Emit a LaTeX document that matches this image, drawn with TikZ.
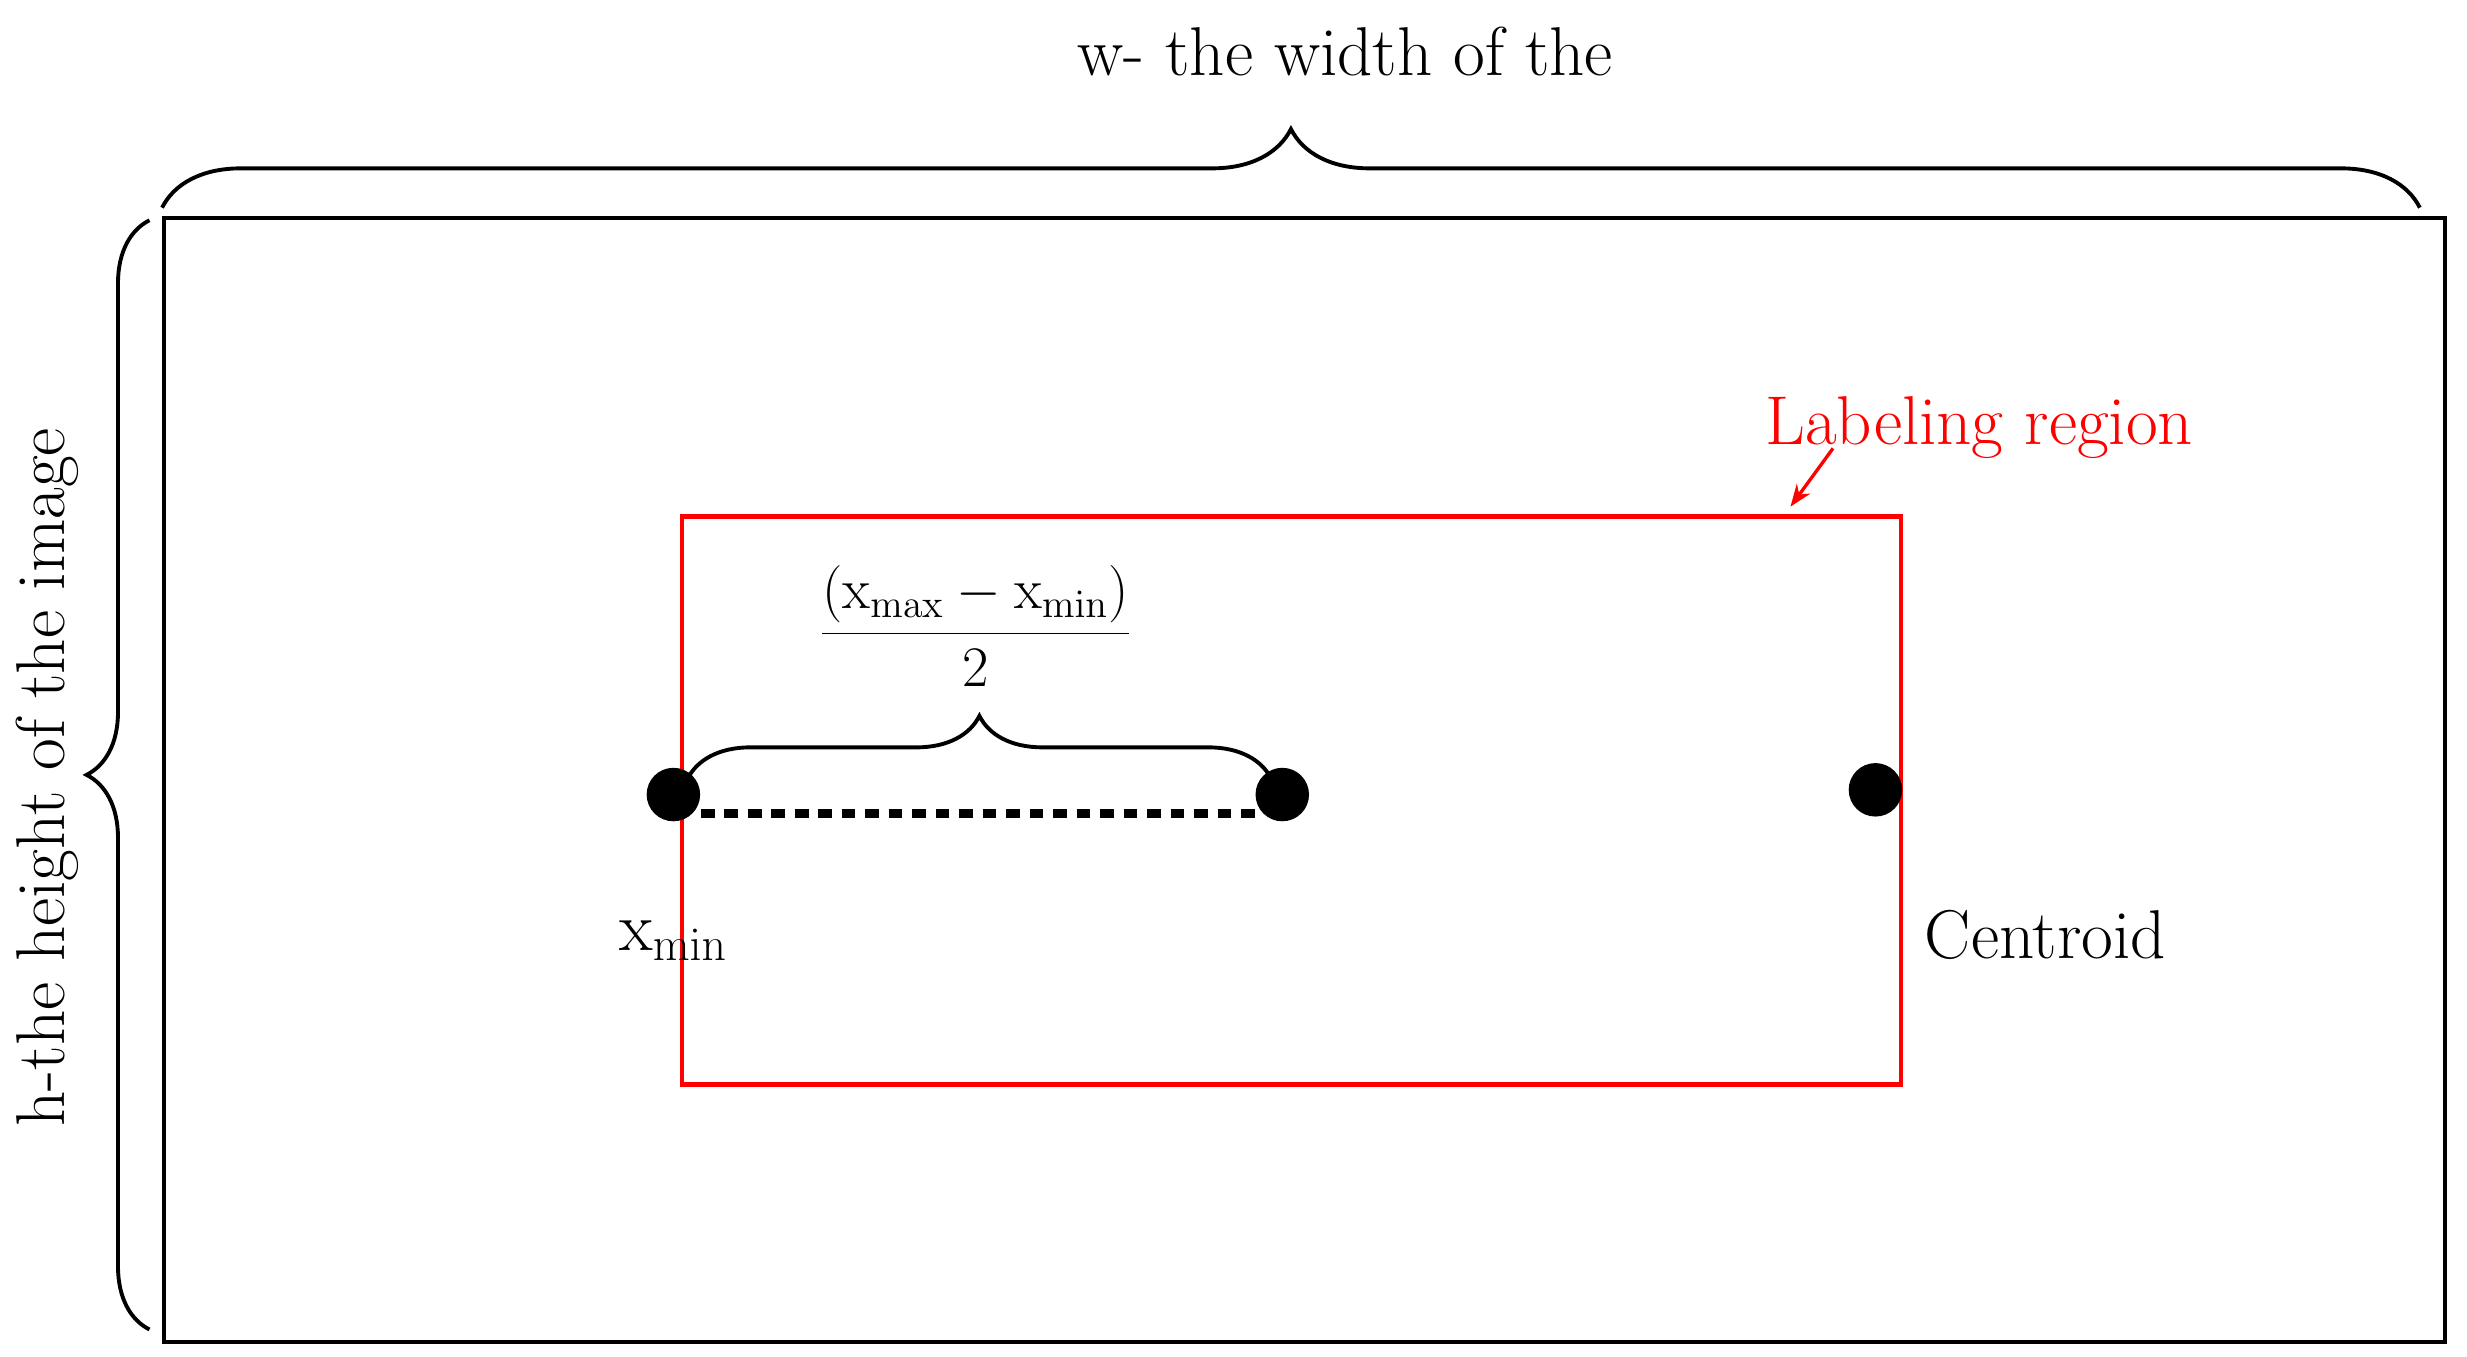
\documentclass[tikz,border=0pt]{standalone}
\usetikzlibrary{decorations.pathreplacing,arrows.meta}
\begin{document}
\begin{tikzpicture}[x=0.02cm,y=-0.02cm,
  txt/.style={font=\fontsize{25}{30}\selectfont, inner sep=0pt},
  br/.style={line width=1.4pt, decorate, decoration={brace,amplitude=#1}},
  dot/.style={circle, fill=black, minimum size=0.68cm, inner sep=0pt}]
\useasboundingbox (0,0) rectangle (1568,862);
\node[draw, line width=1.5pt, minimum width=29cm, minimum height=14.3cm, anchor=north west] (img) at (103,137) {};
\draw[br=1.0cm] (103,132) -- (1538,132);
\node[txt] (wt) at (855,33) {w- the width of the};
\draw[br=0.8cm] (95,845) -- (95,140);
\node[txt, rotate=90] (ht) at (30,494) {h-the height of the image};
\node[draw=red, line width=1.5pt, minimum width=15.5cm, minimum height=7.22cm, anchor=north west] (lab) at (432,327) {};
\node[txt, text=red] (lt) at (1258,272) {Labeling region};
\coordinate (ae) at (1138,322);
\draw[red, line width=1.2pt, -{Stealth[length=8pt]}] (1165,285) -- (ae);
\node[dot] (d1) at (428,505) {};
\node[dot] (d2) at (815,505) {};
\node[dot] (d3) at (1192,502) {};
\draw[line width=3.5pt, dash pattern=on 5pt off 3.5pt] (d1.east |- 0,517) -- (d2.west |- 0,517);
\draw[br=0.8cm] (437,495) -- (808,495);
\node[txt, font=\fontsize{22}{26}\selectfont] (fr) at (620,398) {$\displaystyle\frac{(\mathrm{x}_{\mathrm{max}}-\mathrm{x}_{\mathrm{min}})}{2}$};
\node[txt] (xm) at (428,598) {x$_{\mathrm{min}}$};
\node[txt] (ct) at (1300,594) {Centroid};
\end{tikzpicture}
\end{document}
